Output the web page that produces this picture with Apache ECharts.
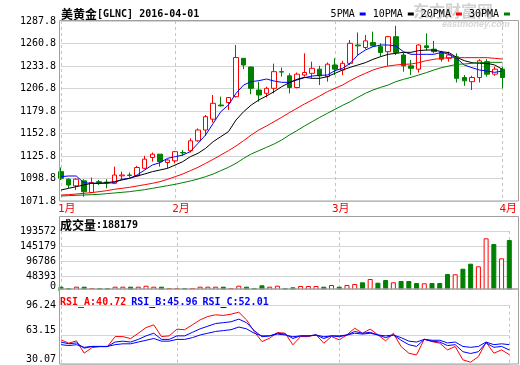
<!DOCTYPE html>
<html><head><meta charset="utf-8">
<script src="https://cdn.jsdelivr.net/npm/echarts@6/dist/echarts.min.js"></script>
<style>html,body{margin:0;padding:0;background:#fff}#c{width:520px;height:365px}</style>
</head><body><div id="c"></div><script>
const dates = ['2016-01-11','2016-01-12','2016-01-13','2016-01-14','2016-01-15','2016-01-18','2016-01-19','2016-01-20','2016-01-21','2016-01-22','2016-01-25','2016-01-26','2016-01-27','2016-01-28','2016-01-29',
'2016-02-01','2016-02-02','2016-02-03','2016-02-04','2016-02-05','2016-02-08','2016-02-09','2016-02-10','2016-02-11','2016-02-12','2016-02-15','2016-02-16','2016-02-17','2016-02-18','2016-02-19','2016-02-22','2016-02-23','2016-02-24','2016-02-25','2016-02-26','2016-02-29',
'2016-03-01','2016-03-02','2016-03-03','2016-03-04','2016-03-07','2016-03-08','2016-03-09','2016-03-10','2016-03-11','2016-03-14','2016-03-15','2016-03-16','2016-03-17','2016-03-18','2016-03-21','2016-03-22','2016-03-23','2016-03-24','2016-03-28','2016-03-29','2016-03-30','2016-03-31',
'2016-04-01'];
const open  = [1107,1098,1090,1096,1082,1095,1094.5,1093,1102,1103,1102,1111,1124,1128,1118,1120,1130,1132,1144,1157,1170,1187,1190,1197,1243,1232.6,1205,1201,1207,1227,1222,1208,1223,1225,1230,1221,1235,1229,1237,1259,1256,1262,1257,1251,1269,1247,1234,1230,1258,1254,1250,1243,1245,1220,1215,1220,1239,1224,1230];
const close = [1099,1091,1098,1083,1094,1094,1093.5,1103,1103,1102.5,1112,1122,1128,1119,1121,1131,1129.5,1144,1157,1173,1189,1186,1196,1244,1235,1207,1199,1207,1227,1226.5,1208,1224,1226,1231,1222,1236,1230,1237,1261,1258,1264,1258,1250,1269,1250,1234,1231,1259,1256,1251,1242,1247,1219,1216,1220,1240,1224,1230,1220];
const low   = [1097,1087,1085,1077,1081,1091,1087,1092,1098,1100,1101,1110,1119,1113,1111,1117,1126,1130,1143,1150,1166,1185,1181,1196,1230,1200,1191,1196,1201,1221,1201,1207,1221,1219,1211,1215,1223,1223,1235,1247,1254,1257,1245,1234,1247,1227,1223,1226,1252,1249,1239,1239,1214,1210,1205,1214,1221,1222,1207];
const high  = [1112,1099,1099,1098,1100,1097,1098,1113,1107,1106,1114,1126,1130,1128,1122,1132,1133,1147,1159,1175,1199,1197,1196,1259,1243,1233,1215,1209,1236.6,1232,1225,1226,1249,1239,1234,1238,1243,1240,1265,1274,1271,1275,1261,1270,1282,1250,1241,1260,1273,1264,1252,1251,1249,1223,1222,1242,1242,1233,1233];
const volume = [16000,11800,16000,16000,11800,11800,11800,16000,16000,16000,16000,19100,16000,16000,11800,11800,11800,11800,16000,16000,16000,16000,11800,19100,16000,11800,20400,16000,19100,11800,
14000,18200,18200,18200,16000,21400,16000,21400,24600,30000,40500,28700,37300,30000,34100,34100,27700,26800,27700,27700,56400,55500,73300,89300,81000,170300,152100,106500,164900];
const ma5  = [1101,1101.8,1101.8,1093.8,1093,1093,1093,1093.8,1097.8,1099,1103,1109,1115,1117.8,1123,1125,1127,1131,1141,1151,1165,1179,1187,1201,1211,1215,1216.2,1218.2,1215.8,1214.2,1214.2,1217,1219.8,1221.8,1222.6,1223,1228.2,1231,1237,1247,1253,1257,1259,1259,1257.8,1251,1247.8,1247.8,1247.8,1247.8,1250.2,1247.8,1243,1235,1231.8,1229,1227.8,1226.2,1227.8];
const ma10 = [1085,1087,1089,1091,1093,1093,1093.8,1095,1097,1099,1101.8,1104.2,1107,1109,1111,1115,1119,1125,1129,1135,1143,1149,1155,1169,1179,1187,1193,1197.8,1203,1209,1213.8,1217.8,1220.2,1219,1219,1221,1225,1229,1232.2,1235,1237.8,1241.8,1245,1247.8,1249,1250.2,1250.2,1252.2,1253,1253,1251,1249.8,1244.2,1240.2,1237.8,1237,1237,1235,1229.8];
const ma20 = [1079,1079.4,1080.2,1081,1081.8,1083,1084.2,1085.8,1087,1088.2,1089.8,1091.4,1093,1095,1097.8,1101,1104.2,1108.2,1112.2,1117,1121.8,1127,1132.2,1137.8,1144.2,1151,1157,1161.8,1167,1172.2,1177.8,1183,1188.2,1193,1197.8,1203,1207,1211,1216.2,1221,1225,1229,1231.8,1233.8,1235,1235.8,1236.2,1237.8,1240.2,1241.8,1243,1243.8,1243.8,1243.8,1243.8,1243.8,1243.8,1243,1242.2];
const ma30 = [1077.8,1078.2,1078.6,1079,1079.4,1079.8,1080.6,1081.4,1082.2,1083,1084.2,1085.4,1087,1088.6,1090.2,1091.8,1093.8,1095.8,1098.2,1101,1104.2,1108.2,1112.2,1117,1123,1128.2,1132.2,1136.2,1140.2,1145,1151,1156.2,1161.8,1167,1172.2,1177,1181.8,1186.6,1191,1196.2,1201,1205,1208.2,1211,1215,1217.8,1220.2,1223,1225.8,1229,1231.8,1233.8,1235.8,1236.2,1237,1237.8,1238.2,1238.2,1238.2];
const rsiA = [57.5,53.7,56.3,42.4,48.7,49.7,49.7,61.2,61.2,58.9,65.0,71.4,74.5,61.2,62.0,69.6,69.0,74.5,80.2,84.0,85.9,85.2,86.6,88.9,80.2,66.9,55.5,59.4,65.8,65.0,51.8,61.2,61.2,63.2,53.7,61.2,57.5,63.2,70.7,65.0,69.6,63.2,56.3,65.0,49.9,42.3,40.4,58.3,55.5,53.7,46.1,49.9,34.8,32.1,38.5,54.8,42.3,46.1,40.72];
const rsiB = [55,53,54,48,50,50,50,55,56,55,58,62,65,58,58,62,62,66,70,73,76,77,78,81,77,68,61,62,65,64,59,62,62,63,59,62,61,63,67,65,66,63,60,63,57,52,50,58,56,55,51,52,44,42,44,54,49,50,45.96];
const rsiC = [52,51,52,49,50,50,50,52,53,53,55,57,59,56,56,58,58,60,63,65,67,68,69,72,70,65,62,62,64,63,61,62,62,63,61,62,62,63,65,64,65,63,62,63,60,56,55,58,57,57,54,55,50,49,50,55,52,53,52.01];
const monthIdx = [0,15,36,58];
const monthNames = ['1月','2月','3月','4月'];
const rsiTickLabels = ['30.07','63.15','96.24'];
const volTickLabels = ['0','48393','96786','145179','193572'];
const lastVolume = '188179';
const lastRsi = ['40.72','45.96','52.01'];

const MONO = "'DejaVu Sans Mono', monospace";
const CJK = "'Noto Sans CJK SC', sans-serif";
const RED = '#ff0000', GREEN = '#008000', BLUE = '#0000ff';
const GRIDC = '#d4d4d4', BOXC = '#a0a0a0', DASHC = '#c4c4c4';
const L = 61, W = 448.3;

const chart = echarts.init(document.getElementById('c'), null, {renderer: 'canvas'});
const xBase = (gi, showLabel) => ({
  type: 'category', gridIndex: gi, data: dates, boundaryGap: false,
  axisLine: {show: false}, axisTick: {show: false},
  axisLabel: showLabel ? {
    interval: (i) => monthIdx.includes(i),
    formatter: (v, i) => monthNames[monthIdx.indexOf(i)],
    color: RED, fontSize: 11, fontFamily: "'DejaVu Sans Mono','Noto Sans CJK SC'",
    align: 'left', margin: 3, padding: [0, 0, 0, -3]
  } : {show: false},
  splitLine: {show: true, interval: (i) => monthIdx.includes(i), lineStyle: {color: DASHC, type: [3, 3], width: 1}}
});
const yLabel = {fontFamily: MONO, fontSize: 10, color: '#000', margin: 5, showMaxLabel: true, hideOverlap: false};
const lineS = (name, data, color, xi, yi) => ({
  name, type: 'line', data, xAxisIndex: xi, yAxisIndex: yi, showSymbol: false, symbol: 'none',
  lineStyle: {color, width: 1}, itemStyle: {color}, z: 5, animation: false, silent: true
});
const monoRich = (pb) => ({fontFamily: MONO, fontSize: 10, color: '#000', padding: [0, 0, pb, 0]});

const option = {
  animation: false,
  backgroundColor: '#fff',
  title: [
    {text: '{a|美黄金}{b|[GLNC] 2016-04-01}', left: 61, top: 7, padding: 0,
     textStyle: {rich: {a: {fontFamily: CJK, fontSize: 12, color: '#000', lineHeight: 14}, b: {fontFamily: MONO, fontSize: 10, color: '#000', lineHeight: 14}}}},
    {text: '{a|成交量}{b|:' + lastVolume + '}', left: 60, top: 218, padding: 0,
     textStyle: {rich: {a: {fontFamily: CJK, fontSize: 12, color: '#000', lineHeight: 14}, b: {fontFamily: MONO, fontSize: 10, color: '#000', lineHeight: 14}}}},
    {text: '{r|RSI_A:' + lastRsi[0] + '} {b|RSI_B:' + lastRsi[1] + '} {b|RSI_C:' + lastRsi[2] + '}', left: 60, top: 293, padding: 0,
     textStyle: {rich: {r: {fontFamily: MONO, fontSize: 10, color: RED, lineHeight: 14}, b: {fontFamily: MONO, fontSize: 10, color: BLUE, lineHeight: 14}}}}
  ],
  legend: {
    data: ['5PMA', '10PMA', '20PMA', '30PMA'], right: 10, top: 9, padding: 0,
    align: 'right', icon: 'rect', itemWidth: 6, itemHeight: 3, itemGap: 7,
    textStyle: {fontFamily: MONO, fontSize: 10, color: '#000'}, selectedMode: false
  },
  graphic: [
    {type: 'text', left: 413, top: 3, z: -10, silent: true, style: {text: '东方财富网', font: 'bold 16px ' + CJK, fill: '#d2d2d2'}},
    {type: 'text', left: 442, top: 20, z: -10, silent: true, style: {text: 'eastmoney.com', font: 'italic bold 9px sans-serif', fill: '#d6d6d6'}},
    {type: 'text', x: 56, y: 286, silent: true, style: {text: volTickLabels[0], align: 'right', verticalAlign: 'middle', font: '10px ' + MONO, fill: '#000'}},
    {type: 'rect', shape: {x: 60, y: 289.5, width: 458, height: 4}, style: {fill: '#ffffff'}, z: 40, silent: true},
    {type: 'rect', shape: {x: 59.5, y: 20.5, width: 459, height: 180.5}, style: {fill: 'none', stroke: BOXC, lineWidth: 1}, z: 50, silent: true},
    {type: 'rect', shape: {x: 59.5, y: 216.5, width: 459, height: 72.5}, style: {fill: 'none', stroke: BOXC, lineWidth: 1}, z: 50, silent: true},
    {type: 'rect', shape: {x: 59.5, y: 289, width: 459, height: 75}, style: {fill: 'none', stroke: BOXC, lineWidth: 1}, z: 50, silent: true}
  ],
  grid: [
    {left: L, top: 21, width: W, height: 180},
    {left: L, top: 231, width: W, height: 60.7},
    {left: L, top: 305.7, width: W, height: 58.3}
  ],
  xAxis: [xBase(0, true), xBase(1, false), xBase(2, false)],
  yAxis: [
    {gridIndex: 0, type: 'value', min: 1071.8, max: 1287.8, interval: 27, axisLine: {show: false}, axisTick: {show: false},
     axisLabel: Object.assign({}, yLabel, {showMinLabel: true, formatter: (v) => v.toFixed(1)}), splitLine: {lineStyle: {color: GRIDC}}},
    {gridIndex: 1, type: 'value', min: 0, max: 193572, interval: 48393, axisLine: {show: false}, axisTick: {show: false},
     axisLabel: Object.assign({}, yLabel, {showMinLabel: false, formatter: (v, i) => volTickLabels[i]}),
     splitLine: {lineStyle: {color: GRIDC}}},
    {gridIndex: 2, type: 'value', min: 30.07, max: 96.24, interval: 33.085, axisLine: {show: false}, axisTick: {show: false},
     axisLabel: Object.assign({}, yLabel, {showMinLabel: true, formatter: (v, i) => i === 0 ? '{d|' + rsiTickLabels[0] + '}' : i === 1 ? '{u|' + rsiTickLabels[1] + '}' : rsiTickLabels[i], rich: {d: monoRich(10), u: monoRich(8)}}),
     splitLine: {lineStyle: {color: GRIDC}}}
  ],
  series: [
    {type: 'candlestick', xAxisIndex: 0, yAxisIndex: 0, barWidth: 5, clip: false, z: 3,
     data: open.map((o, i) => [o, close[i], low[i], high[i]]),
     itemStyle: {color: '#ffffff', color0: GREEN, borderColor: RED, borderColor0: GREEN, borderWidth: 1}},
    lineS('5PMA', ma5, BLUE, 0, 0),
    lineS('10PMA', ma10, '#000000', 0, 0),
    lineS('20PMA', ma20, RED, 0, 0),
    lineS('30PMA', ma30, GREEN, 0, 0),
    {type: 'bar', xAxisIndex: 1, yAxisIndex: 1, barWidth: 5, clip: false,
     data: volume.map((v, i) => close[i] > open[i]
       ? {value: v, itemStyle: {color: '#ffffff', borderColor: RED, borderWidth: 1}}
       : {value: v, itemStyle: {color: GREEN, borderColor: GREEN, borderWidth: 1}})},
    lineS('RSI_A', rsiA, RED, 2, 2),
    lineS('RSI_B', rsiB, BLUE, 2, 2),
    lineS('RSI_C', rsiC, BLUE, 2, 2)
  ]
};
chart.setOption(option);
</script></body></html>
